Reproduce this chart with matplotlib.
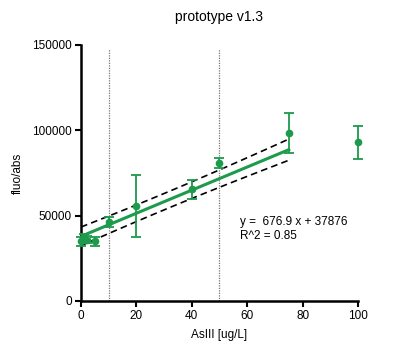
import numpy as np
import matplotlib
matplotlib.use("Agg")
import matplotlib.pyplot as plt

plt.rcParams['font.family'] = ['Liberation Sans', 'DejaVu Sans']

# AsIII concentration [ug/L] and mean fluo/abs with error
conc = [0, 1, 2, 5, 10, 20, 40, 50, 75, 100]
fluo = [35000, 37000, 36000, 35000, 46300, 55600, 65400, 80700, 98200, 93000]
err = [2500, 2000, 2000, 2500, 3000, 18200, 5500, 3000, 11700, 9700]

# fit parameters from the original analysis (points up to 75 ug/L)
slope = 676.9
intercept = 37876
r2 = 0.85
fit_max = 75

# 95% band: narrowest half-width, its x, curvature scale
band_min = 4800
band_center = 30
band_scale = 55

green = '#1d9a4b'

fig = plt.figure(figsize=(3.94, 3.52), dpi=100)
ax = fig.add_axes([0.2056, 0.1449, 0.703, 0.7273])

for xv in (10, 50):
    ax.axvline(xv, ymin=0, ymax=0.985, color='#777777', linestyle=(0, (1.0, 1.0)), linewidth=0.9, zorder=1)

ax.errorbar(conc, fluo, yerr=err, fmt='o', color=green, markersize=4.5,
            elinewidth=1.3, capsize=3.5, capthick=1.3, clip_on=False, zorder=4)

xs = np.linspace(0, fit_max, 100)
ys = slope * xs + intercept
half = band_min * np.sqrt(1 + ((xs - band_center) / band_scale) ** 2)

ax.plot(xs, ys, color=green, linewidth=2.2, zorder=3)
ax.plot(xs, ys + half, color='black', linestyle=(0, (4, 2.5)), linewidth=1.2, zorder=3)
ax.plot(xs, ys - half, color='black', linestyle=(0, (4, 2.5)), linewidth=1.2, zorder=3)

ax.text(57.5, 46500, 'y =  %.1f x + %d' % (slope, intercept), fontsize=8.5, va='center')
ax.text(57.5, 37800, 'R^2 = %.2f' % r2, fontsize=8.5, va='center')

ax.set_xlim(0, 100)
ax.set_ylim(0, 150000)
ax.set_xticks([0, 20, 40, 60, 80, 100])
ax.set_yticks([0, 50000, 100000, 150000])
for side in ('top', 'right'):
    ax.spines[side].set_visible(False)
for side in ('left', 'bottom'):
    ax.spines[side].set_linewidth(1.8)
ax.tick_params(direction='out', length=4, width=1.5, labelsize=8.5, pad=2.5)

ax.set_xlabel('AsIII [ug/L]', fontsize=8.5, labelpad=5)
ax.set_ylabel('fluo/abs', fontsize=8.5, labelpad=6)
ax.set_title('prototype v1.3', fontsize=10, pad=17)

fig.savefig('out.png', dpi=100)
